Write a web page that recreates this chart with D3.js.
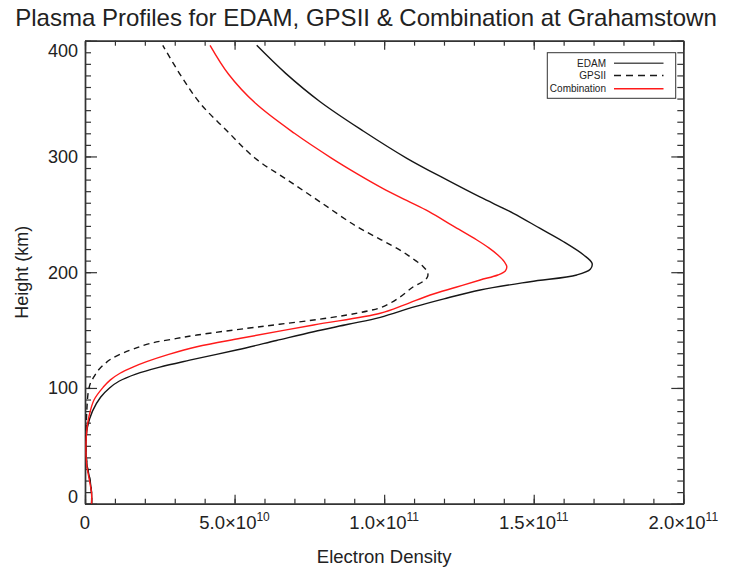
<!DOCTYPE html>
<html>
<head>
<meta charset="utf-8">
<script src="https://cdn.jsdelivr.net/npm/d3@7"></script>
<style>
  body { margin: 0; background: #fff; }
  text { font-family: "Liberation Sans", Arial, sans-serif; fill: #222; }
</style>
</head>
<body>
<div id="chart"></div>
<script>
// DATA (height in km, electron density in units of 1e10)
const edamH = [0, 9, 20, 33, 49, 66, 80, 92, 100, 106, 112, 118, 124, 133, 141, 148.6, 155, 161, 170, 177, 184.6, 191.8, 197.6, 202.5, 207.7, 214.9, 226.3, 238, 250.9, 265, 279.7, 298.4, 322, 347.3, 372, 396]
const edamN = [0.22, 0.22, 0.17, 0.07, 0.03, 0.08, 0.25, 0.52, 0.82, 1.15, 1.7, 2.5, 3.5, 5.1, 6.4, 7.64, 8.8, 9.87, 11.0, 12.0, 13.21, 14.88, 16.44, 16.89, 16.95, 16.67, 16.0, 15.2, 14.32, 13.2, 12.1, 10.76, 9.3, 7.86, 6.7, 5.74]

const gpsH = [0, 9, 20, 33, 49, 66, 80, 92.4, 98.2, 104, 109.7, 115.5, 121.3, 125.5, 129.9, 134, 138.6, 142, 145.7, 151.5, 155, 158.7, 163, 166.5, 170, 178, 187.5, 192, 196, 200, 205, 210, 218, 228, 240, 260, 280, 298.4, 322, 345.9, 370, 396]
const gpsN = [0.22, 0.22, 0.17, 0.07, 0.03, 0.04, 0.06, 0.09, 0.12, 0.18, 0.3, 0.45, 0.68, 0.9, 1.25, 1.65, 2.2, 2.9, 3.74, 5.41, 6.5, 7.64, 8.75, 9.45, 9.95, 10.5, 10.98, 11.3, 11.45, 11.45, 11.3, 11.05, 10.6, 9.9, 9.05, 7.9, 6.75, 5.69, 4.75, 3.85, 3.2, 2.6]

const combH = [0, 9, 20, 33, 49, 66, 75, 89.6, 101, 107, 112.7, 118, 122.7, 129, 135.6, 142.9, 154.4, 164.5, 172, 180.3, 187, 193.3, 197.6, 201, 204.8, 209, 214.9, 221, 227.8, 240, 252.3, 262, 272.5, 285, 298.4, 320, 345.9, 371, 396]
const combN = [0.22, 0.22, 0.15, 0.06, 0.03, 0.07, 0.13, 0.3, 0.62, 0.85, 1.17, 1.6, 2.06, 2.8, 3.74, 5.2, 7.64, 9.87, 10.7, 11.54, 12.4, 13.21, 13.8, 14.05, 14.1, 14.02, 13.8, 13.5, 13.1, 12.3, 11.5, 10.75, 9.95, 9.1, 8.25, 7.0, 5.7, 4.8, 4.18]

const xTicks = [0, 5e10, 1e11, 1.5e11, 2e11]
const xTickMant = ["0", "5.0", "1.0", "1.5", "2.0"]
const xTickExp = ["", "10", "11", "11", "11"]
const yTicks = [0, 100, 200, 300, 400]

const seriesNames = ["EDAM", "GPSII", "Combination"]

const width = 735, height = 574
const pLeft = 85, pRight = 683.3, pTop = 40.7, pBottom = 503.7

const svg = d3.select("#chart").append("svg")
    .attr("width", width)
    .attr("height", height)

// SCALES
const xScale = d3.scaleLinear().domain([0, 2e11]).range([pLeft, pRight])
const yScale = d3.scaleLinear().domain([0, 400]).range([pBottom, pTop])

const axisColor = "#333"

// AXES - ticks on all four sides, pointing inward
const xMinor = d3.range(0, 2e11 + 1, 1e10)
const yMinor = d3.range(0, 401, 10)

function styleAxis(g) {
  g.select(".domain").attr("stroke", axisColor).attr("stroke-width", 1.4)
  g.selectAll(".tick line").attr("stroke", axisColor).attr("stroke-width", 1.2)
  g.selectAll(".tick text").remove()
}

// bottom
svg.append("g").attr("transform", `translate(0,${pBottom})`)
  .call(d3.axisBottom(xScale).tickValues(xMinor).tickSize(-5).tickSizeOuter(0)).call(styleAxis)
svg.append("g").attr("transform", `translate(0,${pBottom})`)
  .call(d3.axisBottom(xScale).tickValues(xTicks).tickSize(-9).tickSizeOuter(0)).call(styleAxis)
// top
svg.append("g").attr("transform", `translate(0,${pTop})`)
  .call(d3.axisTop(xScale).tickValues(xMinor).tickSize(-5).tickSizeOuter(0)).call(styleAxis)
svg.append("g").attr("transform", `translate(0,${pTop})`)
  .call(d3.axisTop(xScale).tickValues(xTicks).tickSize(-9).tickSizeOuter(0)).call(styleAxis)
// left
svg.append("g").attr("transform", `translate(${pLeft},0)`)
  .call(d3.axisLeft(yScale).tickValues(yMinor).tickSize(-6).tickSizeOuter(0)).call(styleAxis)
svg.append("g").attr("transform", `translate(${pLeft},0)`)
  .call(d3.axisLeft(yScale).tickValues(yTicks).tickSize(-12).tickSizeOuter(0)).call(styleAxis)
// right
svg.append("g").attr("transform", `translate(${pRight},0)`)
  .call(d3.axisRight(yScale).tickValues(yMinor).tickSize(-6).tickSizeOuter(0)).call(styleAxis)
svg.append("g").attr("transform", `translate(${pRight},0)`)
  .call(d3.axisRight(yScale).tickValues(yTicks).tickSize(-12).tickSizeOuter(0)).call(styleAxis)

// TICK LABELS
svg.append("g").selectAll("text")
  .data(yTicks)
  .join("text")
    .attr("x", pLeft - 7)
    .attr("y", d => yScale(d) + (d === 400 ? 10 : d === 0 ? -7 : 0))
    .attr("dy", "0.35em")
    .attr("text-anchor", "end")
    .attr("font-size", 18)
    .text(d => d)

const xl = svg.append("g").selectAll("text")
  .data(xTicks)
  .join("text")
    .attr("x", d => xScale(d))
    .attr("y", 529)
    .attr("text-anchor", "middle")
    .attr("font-size", 18.5)
xl.append("tspan").text((d, i) => xTickMant[i] + (xTickExp[i] ? "\u00d710" : ""))
xl.append("tspan")
    .attr("dy", -8)
    .attr("font-size", 12)
    .text((d, i) => xTickExp[i])

// TITLES
svg.append("text")
    .attr("x", 366)
    .attr("y", 26)
    .attr("text-anchor", "middle")
    .attr("font-size", 24)
    .text("Plasma Profiles for EDAM, GPSII & Combination at Grahamstown")

svg.append("text")
    .attr("x", (pLeft + pRight) / 2)
    .attr("y", 563)
    .attr("text-anchor", "middle")
    .attr("font-size", 18.5)
    .text("Electron Density")

svg.append("text")
    .attr("transform", `translate(28,${(pTop + pBottom) / 2}) rotate(-90)`)
    .attr("text-anchor", "middle")
    .attr("font-size", 18)
    .text("Height (km)")

// CURVES
const line = d3.line()
    .x(d => xScale(d[1] * 1e10))
    .y(d => yScale(d[0]))
    .curve(d3.curveCatmullRom)

const series = [
  {h: edamH, n: edamN, color: "#161616", dash: null},
  {h: gpsH, n: gpsN, color: "#161616", dash: "6,4.5"},
  {h: combH, n: combN, color: "#ff1a1a", dash: null}
]

svg.append("g").selectAll("path")
  .data(series)
  .join("path")
    .attr("d", s => line(s.h.map((h, i) => [h, s.n[i]])))
    .attr("fill", "none")
    .attr("stroke", s => s.color)
    .attr("stroke-width", 1.4)
    .attr("stroke-dasharray", s => s.dash)

// LEGEND
const legend = svg.append("g")
legend.append("rect")
    .attr("x", 547.3).attr("y", 52.7)
    .attr("width", 128.4).attr("height", 45.6)
    .attr("fill", "#fff")
    .attr("stroke", axisColor)
    .attr("stroke-width", 1)

const legendY = [63.3, 75.5, 88.7]
seriesNames.forEach((name, i) => {
  legend.append("text")
      .attr("x", 606)
      .attr("y", legendY[i])
      .attr("dy", "0.35em")
      .attr("text-anchor", "end")
      .attr("font-size", 10)
      .text(name)
  legend.append("line")
      .attr("x1", 614).attr("x2", 663.5)
      .attr("y1", legendY[i]).attr("y2", legendY[i])
      .attr("stroke", i === 2 ? "#ff1a1a" : (i === 0 ? "#555" : "#1a1a1a"))
      .attr("stroke-width", 1.4)
      .attr("stroke-dasharray", i === 1 ? "7,5" : null)
})
</script>
</body>
</html>
